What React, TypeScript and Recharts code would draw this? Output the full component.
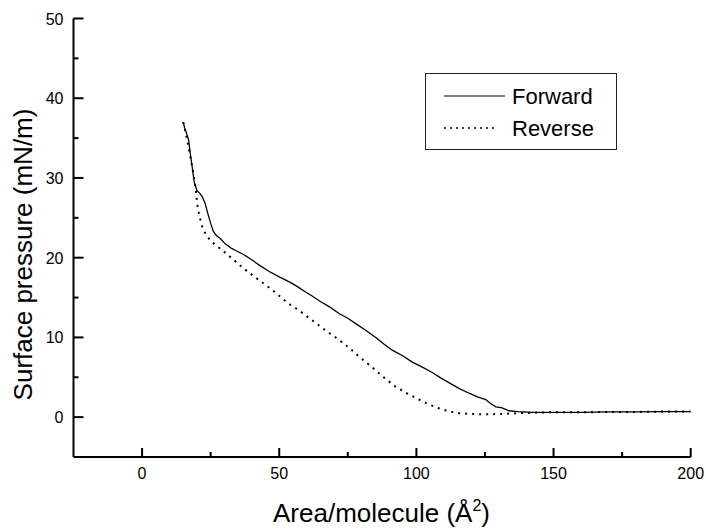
import { LineChart, Line, XAxis, YAxis, Legend, Label } from 'recharts'

// isotherm: area per molecule (Å²) vs surface pressure (mN/m)
const forwardArea = [
  15.0, 15.5, 16.3, 17.0, 17.6, 18.3, 19.0, 20.0, 21.0, 22.0, 23.0, 24.0, 25.0, 26.0, 27.0, 28.5,
  30.4, 32.5, 34.1, 37.0, 40.1, 43.0, 46.2, 50.0, 53.5, 56.5, 59.6, 62.0, 65.0, 68.5, 71.8, 75.0,
  78.0, 81.5, 85.2, 88.0, 91.2, 95.0, 98.5, 102.0, 105.8, 109.0, 112.0, 115.5, 119.2, 122.5, 125.3,
  127.0, 129.0, 131.0, 133.8, 137.0, 142.3, 150, 160, 170, 180, 190, 200
]
const forwardPressure = [
  37.0, 36.3, 35.5, 34.7, 33.0, 31.3, 29.5, 28.4, 28.1, 27.6, 26.8, 25.5, 24.3, 23.3, 22.8, 22.4,
  21.7, 21.2, 20.9, 20.4, 19.7, 19.0, 18.3, 17.6, 17.0, 16.4, 15.7, 15.2, 14.5, 13.8, 13.0, 12.4,
  11.7, 10.9, 10.0, 9.2, 8.4, 7.7, 6.9, 6.3, 5.6, 4.9, 4.3, 3.6, 3.0, 2.5, 2.2,
  1.7, 1.3, 1.2, 0.8, 0.7, 0.6, 0.6, 0.6, 0.65, 0.65, 0.7, 0.7
]

const reverseArea = [
  15.0, 16.0, 17.0, 18.3, 19.5, 20.1, 20.7, 21.3, 22.0, 23.1, 25.0, 27.5, 30.4, 33.5, 36.5, 39.5,
  42.6, 45.0, 48.0, 51.1, 54.0, 57.2, 61.0, 64.5, 68.0, 71.8, 75.5, 79.1, 83.0, 86.4, 89.5, 92.5,
  96.5, 101, 104.5, 108.3, 112, 115.6, 120, 125.3, 131, 137.5, 147.2, 160, 170, 180, 190, 200
]
const reversePressure = [
  37.0, 35.5, 33.8, 31.3, 28.8, 26.7, 25.6, 24.7, 23.8, 23.0, 22.1, 21.4, 20.6, 19.7, 18.8, 18.0,
  17.2, 16.6, 15.8, 14.9, 14.1, 13.4, 12.4, 11.5, 10.6, 9.7, 8.7, 7.6, 6.5, 5.5, 4.6, 3.8,
  3.0, 2.2, 1.6, 1.1, 0.7, 0.5, 0.4, 0.35, 0.4, 0.5, 0.6, 0.6, 0.65, 0.65, 0.7, 0.7
]

const xTicks = [0, 25, 50, 75, 100, 125, 150, 175, 200]
const yTicks = [0, 5, 10, 15, 20, 25, 30, 35, 40, 45, 50]

const forwardData = forwardArea.map((a, i) => ({ area: a, pressure: forwardPressure[i] }))
const reverseData = reverseArea.map((a, i) => ({ area: a, pressure: reversePressure[i] }))

const FONT = '"Liberation Sans", Arial, sans-serif'
const AXIS_Y = 457 // bottom edge of the plot
const AXIS_X = 73.5 // left edge of the plot

// ticks point into the plot, minor ticks shorter and unlabelled
const renderXTick = (props: any) => {
  const { x, payload } = props
  const major = payload.value % 50 === 0
  const len = major ? 9 : 5
  return (
    <g>
      <rect x={x - 1} y={AXIS_Y - len} width={2} height={len} fill="#000" />
      {major && (
        <text x={x} y={AXIS_Y + 22} textAnchor="middle" fontSize={16} fill="#000" fontFamily={FONT}>
          {payload.value}
        </text>
      )}
    </g>
  )
}

const renderYTick = (props: any) => {
  const { y, payload } = props
  const major = payload.value % 10 === 0
  const len = major ? 10 : 5
  return (
    <g>
      <rect x={AXIS_X} y={y - 1} width={len} height={2} fill="#000" />
      {major && (
        <text x={AXIS_X - 10} y={y + 6} textAnchor="end" fontSize={16} fill="#000" fontFamily={FONT}>
          {payload.value}
        </text>
      )}
    </g>
  )
}

const LegendBox = () => (
  <div style={{ width: 192, height: 77, border: '1px solid #222', boxSizing: 'border-box', background: '#fff' }}>
    <svg width={190} height={75} style={{ display: 'block' }}>
      <line x1={18} x2={79} y1={22} y2={22} stroke="#000" strokeWidth={1.2} />
      <text x={86} y={30} fontSize={22} fill="#000" fontFamily={FONT}>Forward</text>
      <line x1={18} x2={72} y1={54} y2={54} stroke="#000" strokeWidth={1.5} strokeDasharray="2 4" />
      <text x={86} y={62} fontSize={22} fill="#000" fontFamily={FONT}>Reverse</text>
    </svg>
  </div>
)

export default function App() {
  return (
    <div style={{ position: 'absolute', left: 0, top: 0, fontFamily: FONT, background: '#fff' }}>
      <LineChart width={706} height={529} margin={{ top: 18.5, right: 15.3, bottom: 0, left: 0 }}>
        <XAxis
          type="number"
          dataKey="area"
          domain={[-25, 200]}
          ticks={xTicks}
          interval={0}
          allowDataOverflow
          height={72}
          tickLine={false}
          tick={renderXTick}
          axisLine={{ stroke: '#000', strokeWidth: 2 }}
        >
          <Label
            content={() => (
              <text x={381.5} y={522} textAnchor="middle" fontSize={26} fill="#000" fontFamily={FONT}>
                Area/molecule (Å<tspan dy={-11} fontSize={16}>2</tspan><tspan dy={11}>)</tspan>
              </text>
            )}
          />
        </XAxis>
        <YAxis
          type="number"
          domain={[-5, 50]}
          ticks={yTicks}
          interval={0}
          allowDataOverflow
          width={73.5}
          tickLine={false}
          tick={renderYTick}
          axisLine={{ stroke: '#000', strokeWidth: 2 }}
        >
          <Label
            content={() => (
              <text
                x={32}
                y={254.5}
                transform="rotate(-90, 32, 254.5)"
                textAnchor="middle"
                fontSize={26}
                fill="#000"
                fontFamily={FONT}
              >
                Surface pressure (mN/m)
              </text>
            )}
          />
        </YAxis>
        <Legend
          layout="horizontal"
          verticalAlign="middle"
          align="center"
          content={<LegendBox />}
          wrapperStyle={{ position: 'absolute', left: 425, top: 73, width: 192, height: 77 }}
        />
        <Line
          data={forwardData}
          dataKey="pressure"
          name="Forward"
          type="linear"
          stroke="#000"
          strokeWidth={1.3}
          dot={false}
          isAnimationActive={false}
        />
        <Line
          data={reverseData}
          dataKey="pressure"
          name="Reverse"
          type="linear"
          stroke="#000"
          strokeWidth={2}
          strokeDasharray="2 5"
          dot={false}
          isAnimationActive={false}
        />
      </LineChart>
    </div>
  )
}
